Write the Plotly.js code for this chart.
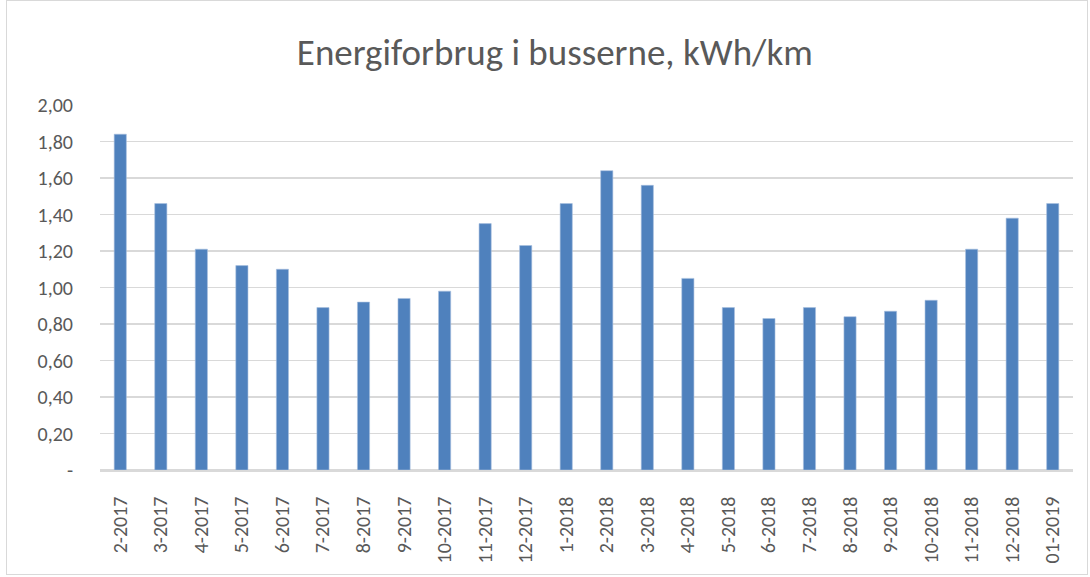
<!DOCTYPE html>
<html>
<head>
<meta charset="utf-8">
<script src="https://cdn.plot.ly/plotly-3.0.1.min.js"></script>
<style>
html,body{margin:0;padding:0;background:#fff;}
#frame{position:absolute;left:6px;top:0px;width:1082px;height:575px;border:1px solid #d9d9d9;box-sizing:border-box;}
#chart{position:absolute;left:0;top:0;width:1090px;height:577px;}
</style>
</head>
<body>
<div id="frame"></div>
<div id="chart"></div>
<script>
const categories = ["2-2017","3-2017","4-2017","5-2017","6-2017","7-2017","8-2017","9-2017","10-2017","11-2017","12-2017","1-2018","2-2018","3-2018","4-2018","5-2018","6-2018","7-2018","8-2018","9-2018","10-2018","11-2018","12-2018","01-2019"];
const values = [1.84,1.46,1.21,1.12,1.10,0.89,0.92,0.94,0.98,1.35,1.23,1.46,1.64,1.56,1.05,0.89,0.83,0.89,0.84,0.87,0.93,1.21,1.38,1.46];
const yTickVals = [0,0.2,0.4,0.6,0.8,1.0,1.2,1.4,1.6,1.8,2.0];
const yTickText = ["-","0,20","0,40","0,60","0,80","1,00","1,20","1,40","1,60","1,80","2,00"];

const trace = {
  type: "bar",
  x: categories,
  y: values,
  marker: {color: "#4f81bd", line: {color: "#a7bfdf", width: 0.6}},
  hoverinfo: "x+y"
};
const font = "Calibri, Carlito, Lato, 'Open Sans', sans-serif";
const layout = {
  width: 1090, height: 577,
  paper_bgcolor: "rgba(0,0,0,0)",
  plot_bgcolor: "rgba(0,0,0,0)",
  margin: {l: 100, r: 17, t: 105, b: 107},
  title: {text: "Energiforbrug i busserne, kWh/km", x: 0.509, xanchor: "center", y: 0.91, yanchor: "middle",
          font: {family: font, size: 37, color: "#595959"}},
  bargap: 0.7,
  showlegend: false,
  xaxis: {
    type: "category",
    tickangle: -90,
    tickfont: {family: font, size: 20, color: "#595959"},
    showgrid: false,
    showline: true, linecolor: "#d9d9d9", linewidth: 1.5,
    ticks: "", ticklabelstandoff: 17
  },
  yaxis: {
    range: [0, 2.0],
    tickvals: yTickVals,
    ticktext: yTickText,
    tickfont: {family: font, size: 20, color: "#595959"},
    showgrid: true, gridcolor: "#d9d9d9", gridwidth: 1.5,
    zeroline: true, zerolinecolor: "#d9d9d9", zerolinewidth: 1.5,
    showline: false, ticks: "", ticklabelstandoff: 26
  }
};
Plotly.newPlot("chart", [trace], layout, {displayModeBar: false, staticPlot: true});
</script>
</body>
</html>
